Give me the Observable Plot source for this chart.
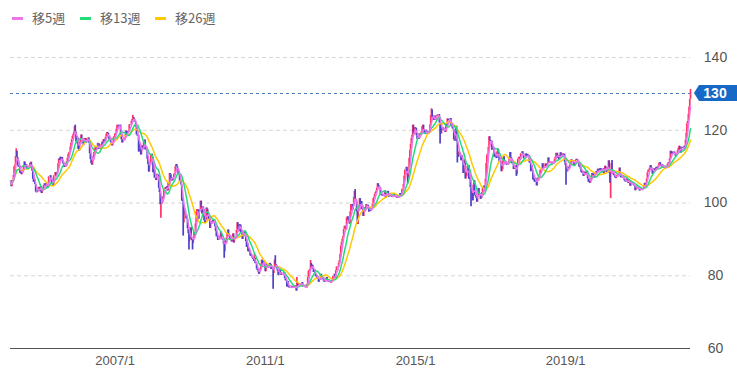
<!DOCTYPE html>
<html><head><meta charset="utf-8">
<script src="https://cdn.jsdelivr.net/npm/d3@7"></script>
<script src="https://cdn.jsdelivr.net/npm/@observablehq/plot@0.6"></script>
<style>
html,body{margin:0;padding:0;background:#fff;}
body{width:737px;height:379px;overflow:hidden;font-family:"Liberation Sans",Arial,sans-serif;}
#legend{position:relative;height:36px;}
.sw{position:absolute;top:17px;width:11px;height:3px;}
.lt{position:absolute;top:9px;font:13px "Noto Sans CJK JP","Noto Sans",sans-serif;color:#666;line-height:18px;}
</style></head><body>
<div id="legend"></div>
<div id="chart"></div>
<script>
// weekly closes (Friday), USD/JPY
const c2004 = [106.0,104.5, 106.2,106.1,107.6,110.0,110.4, 112.8,114.2,112.5,110.2, 109.8,110.1,108.2,108.6, 107.8,108.4,109.0,110.2,111.3, 110.3,110.6,109.6,109.8, 109.7,110.0,110.2,110.9, 111.2,110.0,108.7,106.5,105.7, 106.4,105.1,103.0,102.8, 103.0,104.0,104.3,104.0,103.1];
const c2005 = [104.5,102.6,103.3,103.7, 104.9,105.3,104.6,104.6, 105.5,104.1,105.0,107.2, 107.3,107.5,106.8,105.1,105.0, 104.8,107.5,107.6,108.3, 107.2,107.9,108.5,110.8, 112.1,111.7,112.6,111.7,112.5, 111.4,110.7,109.8,110.3, 109.8,110.3,111.4,112.3,113.3, 113.8,114.0,115.4,116.5, 117.4,118.3,118.9,119.5, 121.0,119.5,116.8,116.3,117.8];
const c2006 = [114.7,114.3,116.6,117.6, 118.7,117.7,117.6,115.9, 117.5,117.7,116.8,116.5,117.7, 117.7,117.9,116.4,113.5, 111.9,110.8,110.4,112.3, 112.8,113.9,115.0,115.4,114.5, 114.9,116.4,116.3,114.7, 114.7,115.6,116.1,116.7, 116.0,117.4,116.8,116.9,118.1, 119.0,119.4,119.1,118.2, 117.4,117.8,116.6,115.9, 115.7,116.4,118.0,118.3,119.0];
const c2007 = [118.9,120.3,121.4,121.4, 120.9,121.2,121.4,118.8, 117.4,116.5,117.4,117.5,117.8, 117.7,119.8,118.7,119.3, 119.7,119.5,121.5,121.4, 121.4,122.5,123.0,123.5,123.2, 122.7,122.2,120.9,118.7, 118.4,118.6,114.0,116.2,115.9, 113.2,114.4,115.7,114.8, 117.0,117.3,114.6,114.5, 114.6,112.0,110.5,108.5,110.1, 111.0,113.2,113.4,112.6];
const c2008 = [108.3,109.1,106.8,106.8, 106.2,107.9,107.8,107.6,104.0, 102.8,99.5,99.5,99.9, 101.6,101.3,103.6,103.9, 104.2,103.7,104.5,103.3,105.5, 104.9,108.1,107.8,106.0, 106.7,106.1,106.9,107.9, 108.2,110.0,110.6,110.0,108.9, 107.8,108.0,105.9,106.0, 104.9,100.5,101.2,94.5,98.5, 97.9,96.7,95.6,95.5, 92.9,91.6,89.5,90.4];
const c2009 = [93.2,90.0,89.7,88.9,89.9, 91.9,91.1,94.3,97.6, 98.2,98.1,95.5,98.0, 98.2,100.5,98.8,97.0, 98.9,98.1,95.1,94.4,95.3, 98.6,98.3,96.4,95.2, 95.8,93.0,94.2,94.9,94.7, 95.3,94.9,94.7,93.5, 92.2,90.7,91.0,89.7, 89.8,89.9,90.8,92.0,90.1, 89.9,89.7,88.7,86.6, 89.6,89.1,90.4,91.7];
const c2010 = [92.6,91.0,90.8,89.8,90.3, 89.3,90.7,91.5,89.0, 90.3,90.5,90.3,92.5, 94.6,93.2,92.1,94.1,93.9, 91.7,92.4,90.0,91.1, 91.7,92.2,90.7,89.3, 87.8,88.7,86.6,87.4,86.5, 85.4,85.6,85.2,84.8, 84.5,83.9,84.8,83.3, 83.3,81.8,81.4,81.0,80.4, 81.5,82.0,83.2,84.3, 83.0,83.9,83.8,82.6,81.1];
const c2011 = [83.2,82.8,82.5,82.1, 82.2,83.4,83.1,81.7, 82.4,81.8,80.6,82.3, 84.3,83.1,82.7,81.8,81.2, 80.1,80.5,81.6,80.8, 80.1,80.4,80.4,80.6, 80.8,79.2,78.6,78.5,76.9, 78.4,76.8,76.6,76.7, 77.0,77.1,76.6,76.7,77.0, 76.7,77.2,76.9,75.8, 78.1,77.2,77.7,77.8, 77.7,77.6,77.8,78.1,76.9];
const c2012 = [76.9,77.0,76.9,76.7, 76.6,77.6,79.5,81.2, 81.6,81.8,83.4,82.4,82.9, 81.8,80.9,81.6,80.3, 79.7,79.9,79.1,79.6, 78.2,79.5,78.7,80.4,79.8, 79.6,79.0,78.5,78.2, 78.6,78.4,79.5,78.7,78.3, 78.2,78.3,78.4,77.9, 78.7,78.9,79.8,79.8, 80.4,79.4,81.4,82.4,82.5, 82.4,83.5,84.2,85.9];
const c2013 = [88.2,89.2,90.1,90.8, 92.7,93.6,93.5,92.6, 95.9,96.2,95.2,94.5,94.2, 97.6,99.6,99.6,98.0, 99.0,101.6,103.2,101.0,100.5, 97.5,94.1,97.9,99.2, 101.2,99.2,100.4,98.2, 98.3,96.3,97.5,98.7,98.2, 99.6,99.4,99.4,98.3, 97.5,98.5,97.7,98.3, 98.7,99.7,101.2,101.6,102.4, 102.9,103.3,104.1,105.3];
const c2014 = [104.8,104.2,104.2,102.3,102.0, 102.3,101.8,102.3,101.8, 103.3,101.3,102.4,102.8, 103.2,101.6,102.4,102.2, 102.2,101.6,101.5,101.9,101.8, 102.5,102.0,102.0,101.4, 102.1,101.3,101.3,101.8, 102.6,102.0,102.4,103.8,103.9, 105.1,107.4,109.0,109.3, 109.8,107.6,106.9,108.2,112.3, 114.6,116.2,117.8,118.6, 121.4,118.8,119.5,120.7];
const c2015 = [120.5,118.5,117.5,117.7,117.5, 119.1,118.6,119.0,119.6, 121.0,121.4,120.0,119.2, 119.1,120.0,118.9,119.0, 119.7,119.7,119.4,121.5,124.1, 125.6,123.4,122.7,123.9, 122.8,122.7,123.9,124.1,123.9, 124.2,124.3,122.0,121.7, 119.0,120.6,120.0,120.6, 119.9,120.2,119.4,121.5,120.6, 123.1,122.6,122.8,122.8, 123.2,121.0,121.2,120.4];
const c2016 = [120.2,117.3,117.0,118.7,121.1, 116.9,113.2,112.6,114.0, 113.7,113.2,111.6,113.0, 111.6,108.1,108.8,111.8,106.6, 107.2,108.6,110.1,110.3, 106.5,106.9,104.2,102.2, 102.6,100.6,104.9,106.1,102.1, 101.8,101.3,100.2,101.9, 104.0,102.6,102.0,101.0,101.3, 102.9,104.2,103.8,104.7, 103.1,106.6,110.9,113.2, 113.5,115.4,118.2,117.3,116.9];
const c2017 = [117.0,114.5,114.6,115.1, 112.6,113.2,112.9,112.2, 114.0,114.8,112.7,111.3,111.4, 111.1,108.6,109.1,111.5, 112.7,111.3,111.3,110.8, 110.4,110.3,110.9,111.3,112.4, 113.9,112.5,111.1,110.7, 110.7,109.2,109.4,109.3, 110.2,107.8,110.8,112.0,112.5, 112.6,111.8,113.5,113.7, 114.1,113.5,112.1,112.2, 112.2,113.5,112.6,113.3,112.7];
const c2018 = [113.0,111.0,110.8,108.6, 110.2,108.8,106.3,106.7, 105.7,106.8,106.0,104.7,106.3, 106.9,107.4,107.7,109.0, 109.1,109.4,110.8,109.4, 109.5,109.5,110.7,110.0,110.7, 110.5,112.4,111.4,111.0, 111.2,111.0,110.5,111.2,111.0, 110.9,112.1,112.6,113.7, 113.7,112.2,112.6,111.9, 113.2,113.8,112.8,112.9,113.5, 112.7,113.4,111.2,110.3];
const c2019 = [108.5,108.5,109.8,109.5, 109.5,110.3,110.7,111.9, 111.7,111.5,111.5,110.1,110.8, 111.7,112.0,111.9,111.5, 111.1,109.9,110.1,109.3,108.3, 108.2,108.6,107.3,107.8, 108.5,107.9,107.7,108.7, 106.6,105.7,106.4,105.4,106.3, 106.9,108.1,107.6,107.9, 106.9,108.4,108.4,108.7, 108.2,109.3,108.8,108.7,109.5, 108.6,109.4,109.4,109.4];
const c2020 = [108.1,109.5,110.1,109.3,108.4, 109.7,109.8,111.6,108.1, 105.4,108.5,110.9,108.0, 108.5,107.5,107.6,106.9, 106.7,107.6,107.6,107.8,107.8, 109.6,107.4,106.9,107.2, 107.5,106.9,106.9,106.1,105.8, 105.9,106.6,105.8,105.4, 106.2,106.1,104.6,105.4, 105.3,105.6,105.4,104.7,104.7, 103.4,104.6,103.9,104.1, 104.2,104.0,103.3,103.6];
const c2021 = [103.9,103.9,103.8,103.8,104.7, 105.4,104.9,105.4,106.6, 108.3,109.0,108.9,109.6, 110.3,109.7,108.8,107.9,109.3, 108.6,109.4,108.9,109.8, 109.5,109.7,110.2,110.8, 111.1,110.3,110.0,110.6,109.7, 110.2,109.6,109.8,109.8, 109.7,109.9,110.7,111.1, 111.0,112.2,114.2,113.5,114.0, 113.4,113.9,114.0,113.4, 112.8,113.4,113.7,114.4,115.1];
const c2022 = [115.6,114.2,113.7,115.3, 115.2,115.0,115.0,115.6, 114.8,117.3,119.2,121.8, 122.5,124.4,126.4,128.5,130.1];

// notable weekly wick extremes
const wickHigh = [["2004-05-14",114.9],["2005-12-09",121.4],["2007-06-22",124.1],["2010-09-17",85.9],["2011-04-08",85.5],["2011-11-04",79.5],["2012-03-16",84.2],["2013-05-24",103.7],["2015-06-05",125.9],["2020-03-27",111.7],["2022-04-29",131.2]];
const wickLow = [["2008-03-21",95.8],["2008-10-24",90.9],["2008-12-19",87.1],["2009-01-23",87.1],["2009-11-27",84.8],["2011-03-18",76.3],["2014-10-17",105.2],["2015-08-28",116.2],["2016-02-12",111.0],["2016-06-24",99.0],["2017-09-08",107.3],["2019-01-04",104.9],["2020-03-13",101.2]];

const firstWeek = "2004-03-19";
const yTicks = [140, 120, 100, 80, 60];
const gridValues = [140, 120, 100, 80];
const tickYears = [2007, 2011, 2015, 2019];
const series = [
  {label: "移5週", k: 5, color: "#ec74f0"},
  {label: "移13週", k: 13, color: "#22dd77"},
  {label: "移26週", k: 26, color: "#ffc800"}
];
const upColor = "#ff3366", downColor = "#4d40c8";

const closes = [].concat(c2004,c2005,c2006,c2007,c2008,c2009,c2010,c2011,c2012,c2013,c2014,c2015,c2016,c2017,c2018,c2019,c2020,c2021,c2022);
const start = new Date(firstWeek + "T00:00:00Z");
const hiMap = new Map(wickHigh), loMap = new Map(wickLow);
const candles = closes.map((close, i) => {
  const date = d3.utcDay.offset(start, 7 * i);
  const open = i ? closes[i - 1] : close;
  const key = date.toISOString().slice(0, 10);
  const hi = Math.max(open, close, hiMap.get(key) ?? -Infinity);
  const lo = Math.min(open, close, loMap.get(key) ?? Infinity);
  return {date, open, close, hi, lo};
});
const last = candles[candles.length - 1];

// legend
const legend = d3.select("#legend");
const legendX = [12, 80, 155];
series.forEach((s, i) => {
  legend.append("div").attr("class", "sw").style("left", legendX[i] + "px").style("background", s.color);
  legend.append("div").attr("class", "lt").style("left", (legendX[i] + 20) + "px").text(s.label);
});

const maMark = (s, w) => Plot.lineY(candles, Plot.windowY({k: s.k, anchor: "end", reduce: "mean"}, {x: "date", y: "close", stroke: s.color, strokeWidth: w}));

const plot = Plot.plot({
  width: 737, height: 343,
  marginLeft: 10, marginRight: 47, marginTop: 21, marginBottom: 31,
  x: {type: "utc", domain: [candles[0].date, last.date]},
  y: {domain: [60, 140]},
  style: {fontFamily: '"Liberation Sans", Arial, sans-serif', background: "#fff", overflow: "visible"},
  marks: [
    Plot.ruleY(gridValues, {stroke: "#d6d6d6", strokeDasharray: "4,3"}),
    Plot.ruleY([60], {stroke: "#555"}),
    Plot.ruleX(candles.filter(d => d.close >= d.open), {x: "date", y1: "lo", y2: "hi", stroke: upColor, strokeWidth: 1.7}),
    Plot.ruleX(candles.filter(d => d.close < d.open), {x: "date", y1: "lo", y2: "hi", stroke: downColor, strokeWidth: 1.7}),
    maMark(series[2], 1.5),
    maMark(series[1], 1.5),
    maMark(series[0], 1.5),
    Plot.ruleY([last.close], {stroke: "#4a7cc4", strokeDasharray: "3,3"}),
    Plot.axisY(yTicks, {anchor: "right", tickSize: 0, tickPadding: 0, dx: 25, textAnchor: "middle", fontSize: 14, fill: "#555"}),
    Plot.axisX(tickYears.map(y => new Date(Date.UTC(y, 0, 1))), {anchor: "bottom", tickSize: 0, tickPadding: 7, tickFormat: d => `${d.getUTCFullYear()}/1`, fontSize: 13, fill: "#555"})
  ]
});
document.getElementById("chart").appendChild(plot);

// current price tag, positioned through the plot's y scale
const yy = plot.scale("y").apply(last.close);
const xr = plot.scale("x").range[1];
const svg = d3.select(plot);
svg.append("path")
  .attr("d", `M${xr + 4},${yy} L${xr + 9},${yy - 8} L737,${yy - 8} L737,${yy + 8} L${xr + 9},${yy + 8} Z`)
  .attr("fill", "#1769c7");
svg.append("text")
  .attr("x", xr + 25).attr("y", yy).attr("dy", "0.35em")
  .attr("text-anchor", "middle").attr("fill", "#fff")
  .attr("font-size", 14).attr("font-weight", "bold")
  .text(d3.format(".0f")(last.close));
</script>
</body></html>
